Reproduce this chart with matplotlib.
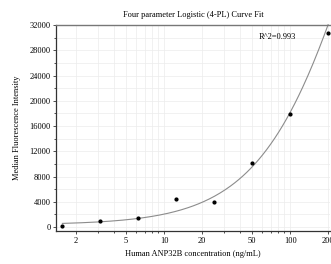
import numpy as np
import matplotlib
matplotlib.use("Agg")
import matplotlib.pyplot as plt
from matplotlib.ticker import MultipleLocator, LogLocator, FixedLocator, NullFormatter

# standard points (ng/mL) and measured MFI
conc = [1.5625, 3.125, 6.25, 12.5, 25, 50, 100, 200]
mfi = [120, 1000, 1400, 4450, 3900, 10150, 17900, 30700]

# 4-PL fit parameters: bottom, slope, EC50, top
fit_a = 350
fit_b = 1.1
fit_c = 400
fit_d = 100000
r2_text = "R^2=0.993"

plt.rcParams["font.family"] = ["Liberation Serif", "DejaVu Serif"]

fig = plt.figure(figsize=(3.31, 2.64), dpi=100)
W, H = 331, 264
left, right, top, bottom = 56, 330, 25, 231
ax = fig.add_axes([left / W, 1 - bottom / H, (right - left) / W, (bottom - top) / H])

xs = np.logspace(np.log10(1.5625), np.log10(200), 200)
ys = fit_d + (fit_a - fit_d) / (1 + (xs / fit_c) ** fit_b)
ax.plot(xs, ys, color="#8c8c8c", lw=0.8, clip_on=False)
ax.scatter(conc, mfi, s=4, color="black", zorder=3, clip_on=False)

ax.set_xscale("log")
ax.set_xlim(1.39, 207)
ax.set_ylim(-630, 32000)

ax.xaxis.set_major_locator(FixedLocator([2, 5, 10, 20, 50, 100, 200]))
ax.set_xticklabels(["2", "5", "10", "20", "50", "100", "200"])
ax.xaxis.set_minor_locator(LogLocator(base=10, subs=np.arange(1, 10), numticks=20))
ax.xaxis.set_minor_formatter(NullFormatter())
ax.yaxis.set_major_locator(MultipleLocator(4000))
ax.yaxis.set_minor_locator(MultipleLocator(2000))

ax.grid(True, which="both", color="#ececec", lw=0.5)
ax.set_axisbelow(True)

ax.tick_params(which="both", direction="out", labelsize=6, color="#333333", width=0.6, pad=1.5)
ax.tick_params(which="major", length=2.5)
ax.tick_params(which="minor", length=1.5)

for s in ["left", "bottom"]:
    ax.spines[s].set_color("#333333")
    ax.spines[s].set_linewidth(0.9)
ax.spines["top"].set_color("#777777")
ax.spines["top"].set_linewidth(1.0)
ax.spines["right"].set_visible(False)

ax.text(0.807, 0.94, r2_text, transform=ax.transAxes, fontsize=6, ha="center", va="center")
ax.set_title("Four parameter Logistic (4-PL) Curve Fit", fontsize=6, pad=6)
ax.set_xlabel("Human ANP32B concentration (ng/mL)", fontsize=6, labelpad=4)
ax.set_ylabel("Median Fluorescence Intensity", fontsize=6, labelpad=6)

fig.savefig("out.png", dpi=100)
